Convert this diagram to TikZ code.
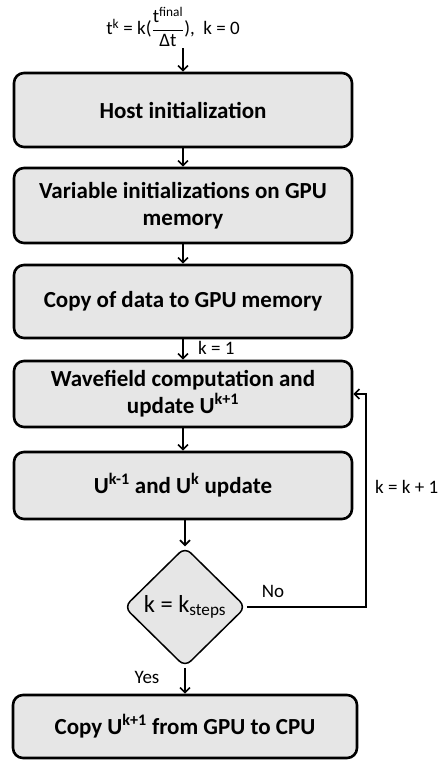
\documentclass[tikz,border=0pt]{standalone}
\usepackage{amsmath}
\usepackage{fontspec}
\setmainfont{Carlito}
\usetikzlibrary{shapes.geometric,arrows.meta}
\definecolor{boxfill}{RGB}{230,230,230}
\begin{document}
\begin{tikzpicture}[x=1pt,y=1pt,
  procbox/.style={draw=black, line width=2.6pt, rounded corners=10pt, fill=boxfill,
    minimum width=338pt, inner sep=2pt, align=center,
    font=\fontsize{23}{27}\selectfont\bfseries},
  decbox/.style={draw=black, line width=1.5pt, shape=diamond, rounded corners=8pt, fill=boxfill,
    minimum width=122pt, minimum height=120pt, inner sep=0pt,
    font=\fontsize{24.5}{28}\selectfont},
  lbl/.style={font=\fontsize{19}{22}\selectfont, inner sep=0pt},
  flow/.style={line width=2pt, -{Straight Barb[length=5pt,width=10pt,line width=1.6pt]}}
]
\useasboundingbox (0,0) rectangle (442,-761);
\node[lbl] (start) at (173,-27) {t\textsuperscript{k} = k($\dfrac{\text{t\textsuperscript{final}}}{\text{Δt}}$),\ \ k = 0};
\coordinate (startb) at (183,-48);
\node[procbox, minimum height=74pt] (host) at (183,-110) {Host initialization};
\node[procbox, minimum height=75pt] (var) at (183,-205.5) {Variable initializations on GPU\\memory};
\node[procbox, minimum height=73pt] (copy) at (183,-301.5) {Copy of data to GPU memory};
\node[procbox, minimum height=66pt] (wave) at (183,-394) {Wavefield computation and\\update U\textsuperscript{k+1}};
\node[procbox, minimum height=67pt] (upd) at (183,-485.5) {U\textsuperscript{k-1} and U\textsuperscript{k} update};
\node[decbox] (dec) at (185,-607) {k = k\textsubscript{steps}};
\node[procbox, minimum width=344pt, minimum height=63pt] (fin) at (185,-726.5) {Copy U\textsuperscript{k+1} from GPU to CPU};
\coordinate (c1) at (366,-607);
\coordinate (c2) at (366,-394);
\draw[flow] (startb) -- (host.north);
\draw[flow] (host.south) -- (var.north);
\draw[flow] (var.south) -- (copy.north);
\draw[flow] (copy.south) -- (wave.north);
\draw[flow] (wave.south) -- (upd.north);
\draw[flow] (upd.south -| dec.north) -- (dec.north);
\draw[flow] (dec.south) -- (fin.north -| dec.south);
\draw[flow] (dec.east) -- (c1) -- (c2) -- (wave.east);
\node[lbl, anchor=west] (k1) at (198,-348) {k = 1};
\node[lbl] (no) at (273,-591) {No};
\node[lbl] (yes) at (147,-677) {Yes};
\node[lbl, anchor=west] (kk) at (375,-487) {k = k + 1};
\end{tikzpicture}
\end{document}
